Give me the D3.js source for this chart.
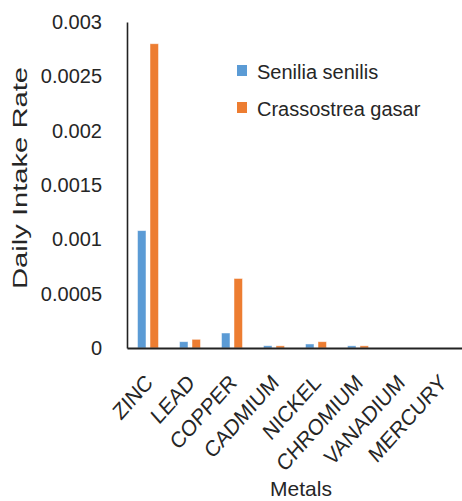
<!DOCTYPE html>
<html>
<head>
<meta charset="utf-8">
<script src="https://cdn.jsdelivr.net/npm/d3@7"></script>
<style>
  html, body { margin: 0; padding: 0; background: #fff; }
  svg { display: block; }
  text { font-family: "Liberation Sans", Arial, sans-serif; fill: #262626; }
</style>
</head>
<body>
<svg id="chart" width="462" height="501"></svg>
<script>
// Daily intake rate of metals for two bivalve species
const metals = ["ZINC", "LEAD", "COPPER", "CADMIUM", "NICKEL", "CHROMIUM", "VANADIUM", "MERCURY"];
const seriesNames = ["Senilia senilis", "Crassostrea gasar"];
const senilia = [0.00108, 0.000058, 0.000138, 0.000021, 0.000037, 0.00002, 0, 0];
const crassostrea = [0.0028, 0.00008, 0.00064, 0.00002, 0.000058, 0.00002, 0, 0];
const yTicks = [0, 0.0005, 0.001, 0.0015, 0.002, 0.0025, 0.003];
const yTickLabels = ["0", "0.0005", "0.001", "0.0015", "0.002", "0.0025", "0.003"];
const colors = ["#5B9BD5", "#ED7D31"];

const svg = d3.select("#chart");
const plotLeft = 127, plotRight = 463, plotTop = 22, plotBottom = 348;

const x = d3.scaleBand().domain(metals).range([plotLeft, plotRight]).paddingInner(0.5).paddingOuter(0.25);
const xs = d3.scaleBand().domain(seriesNames).range([0, x.bandwidth()]).paddingInner(0.32);
const y = d3.scaleLinear().domain([0, 0.003]).range([plotBottom, plotTop]);

const rows = metals.map((m, i) => ({ metal: m, values: [senilia[i], crassostrea[i]] }));

// bars
const groups = svg.append("g").selectAll("g").data(rows).join("g")
  .attr("transform", d => `translate(${x(d.metal)},0)`);
groups.selectAll("rect")
  .data(d => d.values.map((v, k) => ({ v, k })))
  .join("rect")
  .attr("x", d => xs(seriesNames[d.k]))
  .attr("width", xs.bandwidth())
  .attr("y", d => y(d.v))
  .attr("height", d => plotBottom - y(d.v))
  .attr("fill", d => colors[d.k])
  .attr("stroke", "#fff")
  .attr("stroke-opacity", 0.6)
  .attr("stroke-width", 0.8);

// y axis
const yAxis = d3.axisLeft(y).tickValues(yTicks)
  .tickFormat((d, i) => yTickLabels[i]).tickSize(0).tickPadding(25);
const gy = svg.append("g").attr("transform", `translate(${plotLeft},0)`).call(yAxis);
gy.select(".domain").attr("stroke", "#222").attr("stroke-width", 1.6);
gy.selectAll("text").attr("font-size", 20).attr("fill", "#262626")
  .attr("font-family", "Liberation Sans, Arial, sans-serif");

// x axis with slanted category names
const xAxis = d3.axisBottom(x).tickSize(0).tickSizeOuter(0).tickPadding(0);
const gx = svg.append("g").attr("transform", `translate(0,${plotBottom})`).call(xAxis);
gx.select(".domain").attr("stroke", "#222").attr("stroke-width", 2);
gx.selectAll("text")
  .attr("font-size", 20)
  .attr("fill", "#262626")
  .attr("font-family", "Liberation Sans, Arial, sans-serif")
  .attr("text-anchor", "end")
  .attr("dy", null)
  .attr("y", 0)
  .attr("transform", "translate(6,36) scale(1,1.12) rotate(-45)");

// axis titles
svg.append("text")
  .attr("transform", "translate(27,178) rotate(-90)")
  .attr("text-anchor", "middle")
  .attr("font-size", 21)
  .attr("textLength", 222)
  .attr("lengthAdjust", "spacingAndGlyphs")
  .text("Daily Intake Rate");

svg.append("text")
  .attr("x", 301)
  .attr("y", 496)
  .attr("text-anchor", "middle")
  .attr("font-size", 21)
  .text("Metals");

// legend
const legend = svg.append("g").attr("transform", "translate(237,65)");
const li = legend.selectAll("g").data(seriesNames).join("g")
  .attr("transform", (d, i) => `translate(0,${i * 37})`);
li.append("rect").attr("width", 10).attr("height", 11)
  .attr("fill", (d, i) => colors[i]);
li.append("text").attr("x", 20).attr("y", 14)
  .attr("font-size", 20)
  .text(d => d);
</script>
</body>
</html>
